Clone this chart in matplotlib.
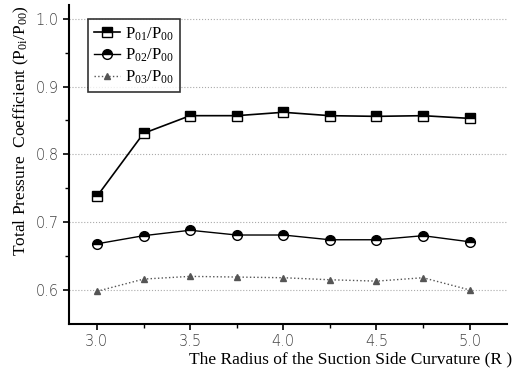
import matplotlib
matplotlib.use("Agg")
import matplotlib.pyplot as plt
import numpy as np

# radius of suction side curvature
radius = [3.0, 3.25, 3.5, 3.75, 4.0, 4.25, 4.5, 4.75, 5.0]
p01 = [0.738, 0.831, 0.857, 0.857, 0.862, 0.857, 0.856, 0.857, 0.853]
p02 = [0.668, 0.680, 0.688, 0.681, 0.681, 0.674, 0.674, 0.680, 0.671]
p03 = [0.598, 0.616, 0.620, 0.619, 0.618, 0.615, 0.613, 0.618, 0.600]
xticks = [3.0, 3.5, 4.0, 4.5, 5.0]
yticks = [0.6, 0.7, 0.8, 0.9, 1.0]

serif = ['Liberation Serif', 'DejaVu Serif']
plt.rcParams['mathtext.fontset'] = 'custom'
plt.rcParams['mathtext.rm'] = 'Liberation Serif'
plt.rcParams['mathtext.it'] = 'Liberation Serif'

fig = plt.figure(figsize=(5.17, 3.68), dpi=100)
ax = fig.add_axes([0.1335, 0.12, 0.847, 0.866])

ax.plot(radius, p01, '-', color='black', lw=1.2, marker='s', ms=7,
        fillstyle='top', mfc='black', mfcalt='white', mec='black', mew=1,
        label='P$_{01}$/P$_{00}$')
ax.plot(radius, p02, '-', color='black', lw=1.0, marker='o', ms=7,
        fillstyle='top', mfc='black', mfcalt='white', mec='black', mew=1,
        label='P$_{02}$/P$_{00}$')
ax.plot(radius, p03, ':', color='#555555', lw=1.0, marker='^', ms=5,
        mfc='#555555', mec='#555555', label='P$_{03}$/P$_{00}$')

ax.set_xlim(2.85, 5.2)
ax.set_ylim(0.55, 1.02)
ax.set_xticks(xticks)
ax.set_xticklabels([f'{v:.1f}' for v in xticks])
ax.set_yticks(yticks)
ax.set_yticklabels([f'{v:.1f}' for v in yticks])
ax.set_xticks(np.array(xticks[:-1]) + 0.25, minor=True)
ax.set_yticks(np.array(yticks[:-1]) + 0.05, minor=True)
ax.tick_params(which='both', direction='out', color='black', labelcolor='#444444',
               labelsize=10.5)
ax.tick_params(which='major', length=4, width=1.2)
ax.tick_params(which='minor', length=3, width=1)
for lbl in ax.get_xticklabels() + ax.get_yticklabels():
    lbl.set_fontfamily('DejaVu Sans')
    lbl.set_fontweight('light')

ax.grid(axis='y', which='major', linestyle=':', color='#aaaaaa', lw=0.8)
ax.spines['top'].set_visible(False)
ax.spines['right'].set_visible(False)
ax.spines['left'].set_linewidth(1.5)
ax.spines['bottom'].set_linewidth(1.5)

ax.set_xlabel('The Radius of the Suction Side Curvature (R )', family=serif,
              fontsize=12.5, labelpad=0)
ax.xaxis.set_label_coords(1.012, -0.088, transform=ax.transAxes)
ax.xaxis.label.set_horizontalalignment('right')
ax.xaxis.label.set_verticalalignment('top')
ax.set_ylabel('Total Pressure  Coefficient (P$_{0i}$/P$_{00}$)', family=serif,
              fontsize=12.5, labelpad=3, loc='top')

leg = ax.legend(loc='upper left', bbox_to_anchor=(0.043, 0.955), frameon=True,
                fancybox=False, edgecolor='black', handlelength=1.6,
                borderpad=0.35, labelspacing=0.25, handletextpad=0.3,
                borderaxespad=0, prop={'family': serif, 'size': 12})
leg.get_frame().set_linewidth(1.2)

fig.savefig('out.png', dpi=100)
